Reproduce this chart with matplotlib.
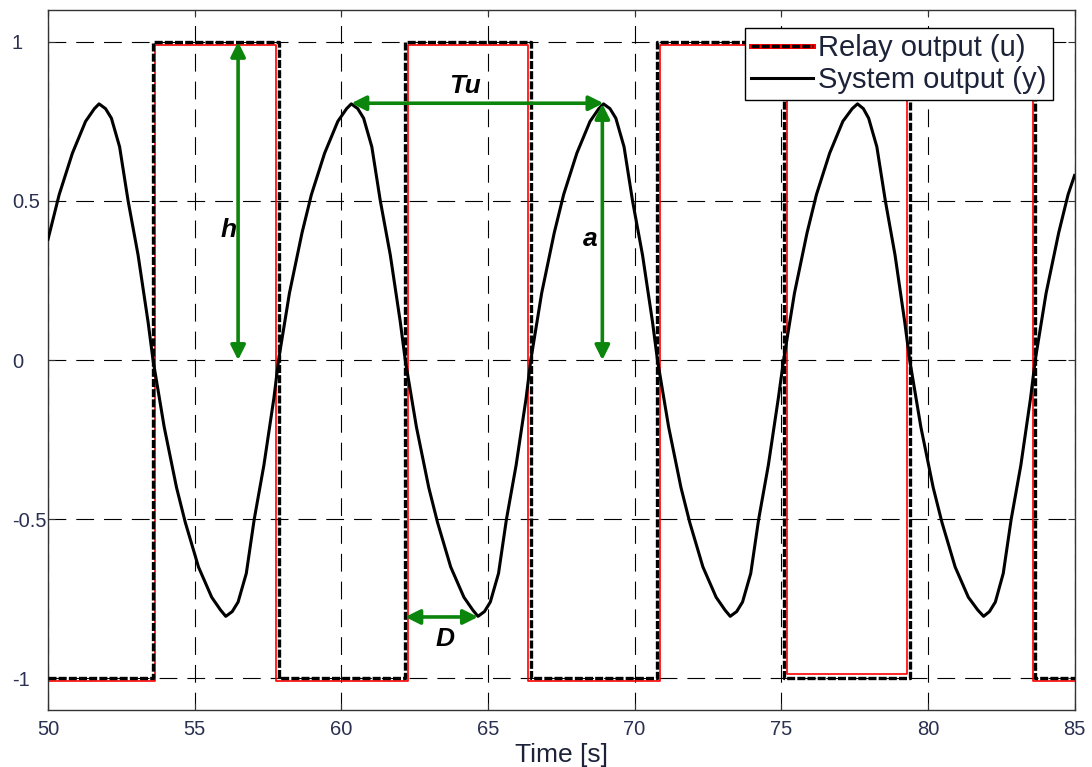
import numpy as np
import matplotlib
matplotlib.use("Agg")
import matplotlib.pyplot as plt
from matplotlib.lines import Line2D
from matplotlib.legend_handler import HandlerTuple

plt.rcParams['font.family'] = ['Liberation Sans', 'DejaVu Sans']

# relay output, black dashed trace (switch times and levels)
relay_t = [50, 53.58, 57.86, 62.18, 66.46, 70.78, 75.08, 79.38, 83.66, 85]
relay_u = [-1, 1, -1, 1, -1, 1, -1, 1, -1, -1]

# relay output, red trace
red_t = [50, 53.65, 57.76, 62.27, 66.38, 70.87, 75.21, 79.30, 83.60, 85]
red_u = [-1.008, 0.99, -1.008, 0.99, -1.008, 0.99, -0.985, 0.99, -1.008, -1.008]

# system output
y_t = [50.00, 50.38, 50.83, 51.28, 51.58, 51.74,
       51.96, 52.16, 52.44, 52.73, 53.07, 53.41, 53.58, 53.96, 54.38, 54.68,
       55.13, 55.58, 55.88, 56.06, 56.28, 56.48, 56.76, 57.03, 57.36, 57.70,
       57.86, 58.23, 58.66, 58.98, 59.43, 59.88, 60.18, 60.34,
       60.56, 60.76, 61.04, 61.33, 61.67, 62.01, 62.18, 62.56, 62.98, 63.28,
       63.73, 64.18, 64.48, 64.66, 64.88, 65.08, 65.36, 65.63, 65.96, 66.30,
       66.46, 66.83, 67.26, 67.58, 68.03, 68.48, 68.78, 68.94,
       69.16, 69.36, 69.64, 69.93, 70.27, 70.61, 70.78, 71.16, 71.58, 71.88,
       72.33, 72.78, 73.08, 73.26, 73.48, 73.68, 73.96, 74.23, 74.56, 74.90,
       75.08, 75.45, 75.88, 76.20, 76.65, 77.10, 77.42, 77.60,
       77.80, 77.98, 78.26, 78.55, 78.88, 79.21, 79.38, 79.76, 80.18, 80.48,
       80.93, 81.38, 81.70, 81.90, 82.10, 82.30, 82.57, 82.84, 83.17, 83.50,
       83.66, 84.03, 84.46, 84.78, 85.00]
y_v = [0.38, 0.52, 0.65, 0.75, 0.79, 0.805,
       0.79, 0.76, 0.67, 0.50, 0.33, 0.12, 0.0, -0.21, -0.40, -0.51,
       -0.65, -0.745, -0.785, -0.805, -0.79, -0.76, -0.67, -0.50, -0.33, -0.12,
       0.0, 0.21, 0.40, 0.52, 0.65, 0.75, 0.79, 0.805,
       0.79, 0.76, 0.67, 0.50, 0.33, 0.12, 0.0, -0.21, -0.40, -0.51,
       -0.65, -0.745, -0.785, -0.805, -0.79, -0.76, -0.67, -0.50, -0.33, -0.12,
       0.0, 0.21, 0.40, 0.52, 0.65, 0.75, 0.79, 0.805,
       0.79, 0.76, 0.67, 0.50, 0.33, 0.12, 0.0, -0.21, -0.40, -0.51,
       -0.65, -0.745, -0.785, -0.805, -0.79, -0.76, -0.67, -0.50, -0.33, -0.12,
       0.0, 0.21, 0.40, 0.52, 0.65, 0.75, 0.79, 0.805,
       0.79, 0.76, 0.67, 0.50, 0.33, 0.12, 0.0, -0.21, -0.40, -0.51,
       -0.65, -0.745, -0.785, -0.805, -0.79, -0.76, -0.67, -0.50, -0.33, -0.12,
       0.0, 0.21, 0.40, 0.52, 0.58]

x_ticks = [50, 55, 60, 65, 70, 75, 80, 85]
y_ticks = [-1, -0.5, 0, 0.5, 1]
y_tick_labels = ['-1', '-0.5', '0', '0.5', '1']

green = '#0b850b'
tick_color = '#2a3050'

fig = plt.figure(figsize=(10.92, 7.67), dpi=100)
ax = fig.add_axes([0.044, 0.074, 0.940, 0.913])

ax.step(red_t, red_u, where='post', color='red', lw=1.2, zorder=2)
ax.step(relay_t, relay_u, where='post', color='black', lw=2.4,
        linestyle=(0, (2.4, 0.65)), zorder=3)
ax.plot(y_t, y_v, color='black', lw=2.2, zorder=4)

ax.set_xlim(50, 85)
ax.set_ylim(-1.1, 1.1)
ax.set_xticks(x_ticks)
ax.set_yticks(y_ticks)
ax.set_yticklabels(y_tick_labels)
ax.grid(True, color='black', lw=0.8, linestyle=(0, (16, 9)), zorder=1)
ax.set_axisbelow(True)

ax.tick_params(direction='in', top=True, right=True, length=5,
               labelsize=14.5, colors='#333333', labelcolor=tick_color)
ax.tick_params(axis='x', pad=7)
ax.tick_params(axis='y', pad=26)
for lbl in ax.get_yticklabels():
    lbl.set_ha('left')
for s in ax.spines.values():
    s.set_color('#333333')
    s.set_linewidth(1.0)

ax.set_xlabel('Time [s]', fontsize=19, color='#1c2238', labelpad=3)

# annotation arrows
arr = dict(arrowstyle='<|-|>', color=green, lw=2.6,
           mutation_scale=22, shrinkA=0, shrinkB=0)
ax.annotate('', xy=(56.48, 1.0), xytext=(56.48, 0.0), arrowprops=arr, zorder=6)
ax.annotate('', xy=(68.94, 0.807), xytext=(60.34, 0.807), arrowprops=arr, zorder=6)
ax.annotate('', xy=(68.90, 0.805), xytext=(68.90, 0.0), arrowprops=arr, zorder=6)
ax.annotate('', xy=(64.66, -0.807), xytext=(62.18, -0.807), arrowprops=arr, zorder=6)

lab = dict(fontsize=19, fontweight='bold', fontstyle='italic',
           color='black', ha='center', va='center', zorder=7)
ax.text(56.14, 0.41, 'h', **lab)
ax.text(64.23, 0.86, 'Tu', **lab)
ax.text(68.49, 0.38, 'a', **lab)
ax.text(63.55, -0.875, 'D', **lab)

red_proxy = Line2D([], [], color='red', lw=3.6)
blk_proxy = Line2D([], [], color='black', lw=2.4, linestyle=(0, (2.4, 0.65)))
sys_proxy = Line2D([], [], color='black', lw=2.2)
leg = ax.legend([(red_proxy, blk_proxy), sys_proxy],
                ['Relay output (u)', 'System output (y)'],
                handler_map={tuple: HandlerTuple(ndivide=1)},
                loc='upper right', bbox_to_anchor=(0.9786, 0.974),
                borderaxespad=0, fontsize=21, handlelength=2.1,
                handletextpad=0.2, labelspacing=0.15, borderpad=0.2,
                fancybox=False, framealpha=1, edgecolor='black')
leg.get_frame().set_linewidth(1.0)
leg.set_zorder(10)
for t in leg.get_texts():
    t.set_color('#1c2238')

fig.savefig('out.png', dpi=100)
